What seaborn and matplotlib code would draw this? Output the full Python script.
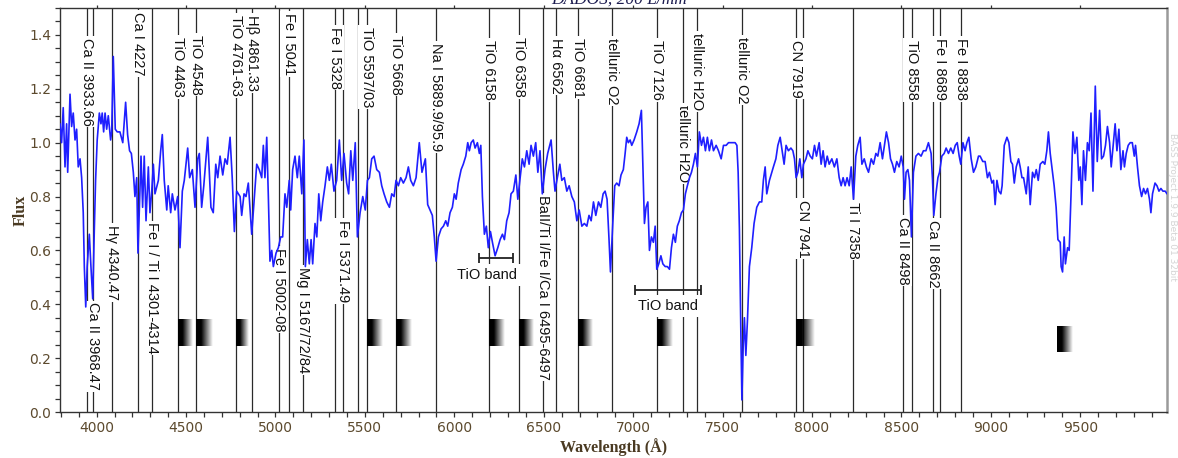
import numpy as np
import pandas as pd
import matplotlib
matplotlib.use("Agg")
import matplotlib.pyplot as plt
from matplotlib.ticker import MultipleLocator
import seaborn as sns

# spectrum (wavelength in Angstrom, normalised flux)
spectrum_wavelength = [
    3795, 3804, 3813, 3823, 3832, 3838, 3851, 3860, 3869, 3879,
    3888, 3897, 3907, 3916, 3925, 3931, 3939, 3947, 3959, 3968,
    3978, 3987, 3994, 4003, 4015, 4024, 4031, 4039, 4047, 4056,
    4065, 4078, 4084, 4093, 4104, 4115, 4130, 4146, 4162, 4173,
    4184, 4194, 4205, 4214, 4224, 4231, 4242, 4248, 4257, 4266,
    4276, 4289, 4298, 4308, 4317, 4326, 4345, 4358, 4367, 4378, 4392,
    4400, 4414, 4423, 4438, 4453, 4466, 4479, 4490, 4509, 4520,
    4535, 4550, 4565, 4574, 4587, 4599, 4621, 4639, 4652, 4666,
    4677, 4690, 4705, 4718, 4730, 4746, 4758, 4770, 4783, 4802,
    4811, 4824, 4835, 4848, 4867, 4880, 4895, 4909, 4923, 4932,
    4941, 4951, 4960, 4969, 4979, 4988, 5003, 5016, 5029, 5040,
    5053, 5063, 5077, 5085, 5096, 5109, 5122, 5133, 5147, 5159,
    5167, 5178, 5189, 5199, 5208, 5221, 5231, 5242, 5253, 5264,
    5277, 5290, 5301, 5312, 5327, 5342, 5357, 5370, 5383, 5398,
    5409, 5421, 5432, 5446, 5458, 5473, 5488, 5502, 5514, 5525,
    5538, 5551, 5566, 5581, 5594, 5607, 5622, 5637, 5650, 5663,
    5674, 5687, 5700, 5715, 5730, 5743, 5756, 5771, 5786, 5804,
    5819, 5838, 5851, 5864, 5877, 5888, 5898, 5911, 5926, 5939,
    5952, 5963, 5976, 5989, 6000, 6010, 6022, 6038, 6050, 6064,
    6075, 6084, 6094, 6106, 6116, 6129, 6140, 6148, 6157, 6168,
    6179, 6190, 6202, 6213, 6228, 6243, 6256, 6269, 6280, 6293,
    6306, 6317, 6330, 6344, 6355, 6368, 6380, 6392, 6405, 6418,
    6429, 6442, 6455, 6467, 6479, 6492, 6507, 6522, 6541, 6554,
    6563, 6576, 6590, 6601, 6615, 6629, 6642, 6657, 6671, 6685,
    6698, 6713, 6727, 6741, 6753, 6765, 6778, 6791, 6806, 6819,
    6832, 6843, 6854, 6865, 6873, 6886, 6897, 6908, 6921, 6932,
    6945, 6955, 6964, 6973, 6983, 6992, 7005, 7020, 7033, 7046,
    7054, 7063, 7072, 7082, 7091, 7102, 7113, 7123, 7132, 7143,
    7155, 7166, 7179, 7191, 7203, 7214, 7225, 7236, 7247, 7258,
    7270, 7281, 7292, 7303, 7315, 7326, 7337, 7348, 7359, 7370,
    7382, 7393, 7404, 7415, 7426, 7438, 7449, 7464, 7477, 7492,
    7505, 7520, 7533, 7552, 7570, 7580, 7587, 7594, 7602, 7608,
    7615, 7622, 7630, 7639, 7650, 7663, 7676, 7691, 7706, 7719,
    7728, 7738, 7747, 7762, 7775, 7784, 7798, 7809, 7822, 7833,
    7844, 7855, 7868, 7882, 7893, 7902, 7911, 7921, 7932, 7943,
    7952, 7966, 7977, 7990, 8002, 8014, 8025, 8040, 8051, 8062,
    8073, 8085, 8096, 8111, 8125, 8139, 8152, 8163, 8174, 8185,
    8196, 8208, 8219, 8232, 8245, 8256, 8269, 8279, 8292, 8304,
    8316, 8331, 8344, 8357, 8368, 8381, 8394, 8405, 8416, 8428,
    8439, 8450, 8461, 8474, 8487, 8499, 8510, 8517, 8526, 8536,
    8545, 8556, 8567, 8581, 8595, 8610, 8623, 8637, 8651, 8666,
    8674, 8681, 8693, 8704, 8713, 8726, 8739, 8750, 8763, 8776,
    8789, 8801, 8812, 8823, 8832, 8844, 8856, 8866, 8877, 8890,
    8903, 8916, 8931, 8940, 8955, 8968, 8981, 8992, 9006, 9015,
    9024, 9034, 9045, 9056, 9063, 9075, 9090, 9101, 9112, 9121,
    9131, 9142, 9155, 9164, 9174, 9183, 9198, 9209, 9220, 9233,
    9244, 9254, 9265, 9276, 9291, 9302, 9313, 9322, 9332, 9341,
    9354, 9365, 9375, 9388, 9393, 9401, 9410, 9417, 9429, 9438,
    9448, 9459, 9470, 9481, 9492, 9500, 9509, 9518, 9529, 9540,
    9550, 9560, 9571, 9584, 9595, 9608, 9619, 9630, 9641, 9652,
    9664, 9673, 9684, 9695, 9705, 9716, 9727, 9739, 9747, 9757,
    9768, 9779, 9791, 9802, 9809, 9820, 9831, 9843, 9854, 9865,
    9876, 9887, 9895, 9904, 9918, 9929, 9940, 9951, 9962, 9975,
    9985,
]
spectrum_flux = [
    1.07, 1.00, 1.13, 0.91, 1.07, 0.89, 1.18, 1.06, 1.11, 1.01,
    1.05, 0.91, 0.94, 0.87, 0.74, 0.54, 0.39, 0.54, 0.66, 0.54,
    0.42, 0.68, 0.86, 1.01, 1.11, 1.07, 1.11, 1.04, 1.11, 1.05,
    1.10, 1.01, 1.04, 1.32, 1.05, 1.04, 1.04, 1.00, 1.15, 1.03,
    0.97, 0.96, 0.89, 0.80, 0.87, 0.59, 0.82, 0.95, 0.76, 0.95,
    0.71, 0.91, 0.74, 0.82, 0.92, 0.81, 0.86, 0.97, 1.03, 0.86, 0.75,
    0.84, 0.74, 0.81, 0.75, 0.80, 0.61, 0.82, 0.86, 0.98, 0.87,
    0.90, 0.76, 0.94, 0.96, 0.76, 0.84, 1.02, 0.76, 0.74, 0.92,
    0.87, 0.95, 0.88, 0.94, 0.92, 1.02, 0.87, 0.67, 0.82, 0.80,
    0.73, 0.81, 0.80, 0.85, 0.66, 0.78, 0.92, 0.90, 0.87, 0.99,
    0.87, 1.02, 0.80, 0.56, 0.60, 0.54, 0.59, 0.61, 0.65, 0.65,
    0.81, 0.76, 0.86, 0.75, 0.90, 0.95, 0.87, 0.95, 0.81, 1.01,
    0.54, 0.64, 0.55, 0.64, 0.55, 0.70, 0.65, 0.81, 0.71, 0.78,
    0.84, 0.91, 0.86, 0.92, 0.82, 0.86, 1.01, 0.86, 0.96, 0.85,
    0.81, 0.97, 0.86, 1.00, 0.65, 0.74, 0.80, 0.75, 0.86, 0.87,
    0.94, 0.95, 0.90, 0.89, 0.84, 0.81, 0.78, 0.76, 0.81, 0.80,
    0.86, 0.84, 0.87, 0.85, 0.87, 0.91, 0.86, 0.84, 0.87, 1.00,
    0.89, 0.94, 0.77, 0.75, 0.73, 0.65, 0.56, 0.65, 0.68, 0.69,
    0.71, 0.69, 0.74, 0.76, 0.81, 0.79, 0.85, 0.90, 0.92, 0.95,
    1.00, 0.97, 1.00, 1.01, 0.98, 1.00, 0.96, 0.99, 0.80, 0.66,
    0.69, 0.61, 0.67, 0.63, 0.58, 0.61, 0.64, 0.66, 0.64, 0.71,
    0.74, 0.81, 0.82, 0.88, 0.79, 0.87, 0.94, 0.91, 0.97, 0.92,
    0.99, 0.95, 1.00, 0.89, 0.97, 0.81, 0.90, 0.96, 1.01, 0.89,
    0.82, 0.87, 0.92, 0.86, 0.87, 0.82, 0.84, 0.80, 0.78, 0.71,
    0.75, 0.69, 0.70, 0.69, 0.73, 0.71, 0.78, 0.73, 0.78, 0.76,
    0.81, 0.82, 0.79, 0.64, 0.52, 0.70, 0.84, 0.85, 0.84, 0.88,
    0.90, 0.96, 1.02, 1.00, 1.01, 0.99, 1.01, 1.04, 1.07, 1.12,
    0.92, 0.70, 0.76, 0.78, 0.60, 0.65, 0.63, 0.69, 0.53, 0.55,
    0.58, 0.55, 0.54, 0.54, 0.53, 0.61, 0.66, 0.63, 0.69, 0.71,
    0.74, 0.75, 0.81, 0.84, 0.87, 0.89, 0.92, 0.96, 0.91, 1.04,
    0.99, 1.02, 0.97, 1.02, 0.97, 1.01, 0.97, 0.99, 0.97, 0.94,
    0.99, 0.99, 1.00, 1.00, 1.00, 0.99, 0.89, 0.68, 0.30, 0.045,
    0.24, 0.35, 0.21, 0.34, 0.54, 0.61, 0.70, 0.76, 0.78, 0.78,
    0.86, 0.91, 0.81, 0.86, 0.89, 0.91, 0.94, 0.99, 1.02, 0.97,
    0.92, 0.99, 0.97, 0.98, 0.97, 0.94, 0.87, 0.89, 0.94, 0.87,
    0.92, 0.94, 0.97, 0.95, 0.94, 0.99, 0.95, 1.00, 0.92, 0.97,
    0.91, 0.95, 0.92, 0.94, 0.91, 0.94, 0.87, 0.84, 0.87, 0.84,
    0.87, 0.84, 0.91, 0.79, 0.95, 0.99, 1.02, 0.92, 0.94, 0.91,
    0.89, 0.94, 0.92, 0.96, 0.95, 1.00, 0.94, 0.99, 1.04, 1.00,
    0.94, 0.92, 0.89, 0.93, 0.91, 0.95, 0.91, 0.79, 0.89, 0.90,
    0.86, 0.65, 0.89, 0.95, 0.96, 0.95, 0.97, 0.97, 1.00, 0.96,
    0.86, 0.73, 0.81, 0.87, 0.89, 0.95, 0.96, 0.98, 0.96, 0.98,
    0.96, 0.99, 1.00, 0.95, 0.92, 1.00, 0.97, 1.00, 1.02, 0.94,
    0.89, 0.91, 0.95, 0.95, 0.93, 0.93, 0.87, 0.89, 0.85, 0.86,
    0.77, 0.86, 0.82, 0.81, 0.84, 0.99, 1.02, 1.00, 0.93, 0.92,
    0.85, 0.91, 0.94, 0.91, 0.87, 0.87, 0.81, 0.91, 0.77, 0.89,
    0.87, 0.90, 0.86, 0.92, 0.93, 0.92, 0.97, 1.04, 0.96, 0.91,
    0.84, 0.76, 0.64, 0.63, 0.54, 0.52, 0.65, 0.55, 0.61, 0.60,
    0.80, 1.04, 0.96, 1.02, 0.86, 0.91, 0.77, 0.97, 0.86, 1.00,
    0.97, 1.11, 0.82, 1.21, 0.93, 1.12, 0.94, 0.95, 0.99, 1.06,
    1.00, 0.91, 0.99, 1.07, 0.97, 1.05, 0.90, 0.97, 0.91, 0.96,
    0.99, 1.00, 1.00, 0.95, 0.99, 0.91, 0.84, 0.80, 0.83, 0.81,
    0.83, 0.79, 0.74, 0.81, 0.85, 0.84, 0.82, 0.83, 0.82, 0.82,
    0.81,
]
assert len(spectrum_wavelength) == len(spectrum_flux)

# identified lines (x position as drawn) and their labels
line_wave = [3947, 3979, 4087, 4233, 4308, 4456, 4555, 4779, 4870, 5020,
             5076, 5152, 5333, 5376, 5463, 5512, 5672, 5898, 6196, 6364,
             6498, 6567, 6690, 6879, 7132, 7278, 7356, 7608, 7911, 7949,
             8232, 8511, 8558, 8679, 8716, 8834]
line_name = ["Ca II 3933.66", "Ca II 3968.47", "Hγ 4340.47", "Ca I 4227",
             "Fe I / Ti I 4301-4314", "TiO 4463", "TiO 4548", "TiO 4761-63",
             "Hβ 4861.33", "Fe I 5002-08", "Fe I 5041", "Mg I 5167/72/84",
             "Fe I 5328", "Fe I 5371.49", "", "TiO 5597/03", "TiO 5668",
             "Na I 5889.9/95.9", "TiO 6158", "TiO 6358",
             "BaII/Ti I/Fe I/Ca I 6495-6497", "Hα 6562", "TiO 6681",
             "telluric O2", "TiO 7126", "telluric H2O", "telluric H2O",
             "telluric O2", "CN 7919", "CN 7941", "Ti I 7358", "Ca II 8498",
             "TiO 8558", "Ca II 8662", "Fe I 8689", "Fe I 8838"]
# where each label text starts (top of the rotated text, flux units)
label_top = [1.389, 0.408, 0.694, 1.485, 0.705, 1.392, 1.40, 1.474, 1.474, 0.609,
             1.482, 0.538, 1.43, 0.713, np.nan, 1.43, 1.40, 1.37, 1.381, 1.392,
             0.806, 1.389, 1.389, 1.389, 1.381, 1.14, 1.407, 1.392, 1.381, 0.787,
             0.78, 0.724, 1.381, 0.713, 1.389, 1.389]

# band-head markers (black -> white gradients)
band_start = [4456, 4555, 4779, 5512, 5672, 6196, 6364, 6690, 7132, 7911, 9369]
band_width = [82, 90, 72, 86, 84, 88, 82, 82, 87, 106, 84]
band_low = [0.245, 0.245, 0.245, 0.245, 0.245, 0.245, 0.245, 0.245, 0.245, 0.245, 0.223]
band_high = [0.342, 0.342, 0.342, 0.342, 0.342, 0.342, 0.342, 0.342, 0.342, 0.342, 0.317]

# TiO band brackets
tio_from = [6139, 7011]
tio_to = [6330, 7380]
tio_level = [0.573, 0.453]
tio_text_x = [6185, 7195]
tio_text_y = [0.509, 0.394]

sns.set_style("ticks")
plt.rcParams["font.family"] = ["Liberation Sans", "DejaVu Sans"]

fig = plt.figure(figsize=(11.78, 4.58), dpi=100)
ax = fig.add_axes([60 / 1178, 46 / 458, 1107 / 1178, 404 / 458])

spec = pd.DataFrame({"wavelength": spectrum_wavelength, "flux": spectrum_flux})
sns.lineplot(data=spec, x="wavelength", y="flux", color="#1f1fff", lw=1.2,
             estimator=None, sort=False, ax=ax, zorder=4)

for wl, name, top in zip(line_wave, line_name, label_top):
    ax.axvline(wl, color="#2a2a2a", lw=0.9, zorder=1)
    if name:
        ax.text(wl, top, name, rotation=270, ha="center", va="top", fontsize=10.5,
                color="#111111", zorder=2,
                bbox=dict(facecolor="white", edgecolor="none", pad=1.2))

t = np.linspace(0, 1, 80)
grad = np.zeros((1, 80, 4))
grad[..., 3] = np.clip(1.45 * (1 - t), 0, 1)
for x0, w, lo, hi in zip(band_start, band_width, band_low, band_high):
    ax.imshow(grad, extent=(x0, x0 + w, lo, hi), aspect="auto",
              interpolation="bilinear", zorder=3)

for a, b, lev, tx, ty in zip(tio_from, tio_to, tio_level, tio_text_x, tio_text_y):
    ax.text(tx, ty, "TiO band", ha="center", va="center", fontsize=10.5,
            color="#111111", zorder=2,
            bbox=dict(facecolor="white", edgecolor="none", pad=3))
    ax.errorbar((a + b) / 2, lev, xerr=(b - a) / 2, color="#222222", lw=1.3,
                capsize=3.5, capthick=1.3, zorder=3)

ax.set_xlim(3795, 9985)
ax.set_ylim(0, 1.5)
ax.set_xticks(np.arange(4000, 10000, 500))
ax.xaxis.set_minor_locator(MultipleLocator(100))
ax.set_yticks(np.arange(0, 1.41, 0.2))
ax.yaxis.set_minor_locator(MultipleLocator(0.05))
ax.tick_params(which="both", direction="out", length=3.5, width=0.9,
               color="#333333", labelsize=10, labelcolor="#5c4a2e", pad=3)
ax.tick_params(axis="x", which="major", top=True)
for tk in ax.xaxis.get_major_ticks():
    tk.tick2line.set_color("#f5a623")
    tk.tick2line.set_markersize(2.5)
for lab in ax.get_xticklabels() + ax.get_yticklabels():
    lab.set_fontfamily("DejaVu Sans")

for s in ["left", "bottom", "top"]:
    ax.spines[s].set_color("#333333")
    ax.spines[s].set_linewidth(1.0)
ax.spines["right"].set_color("#9a9a9a")
ax.spines["right"].set_linewidth(1.8)

ax.set_xlabel("Wavelength (Å)", fontsize=11.5, family="Liberation Serif",
              fontweight="bold", color="#4a3a22", labelpad=2)
ax.set_ylabel("Flux", fontsize=11.5, family="Liberation Serif",
              fontweight="bold", color="#4a3a22")
ax.yaxis.set_label_coords(-31 / 1107, 0.5)

fig.text(619 / 1178, 1 - 4 / 458, "DADOS, 200 L/mm", ha="center", va="baseline",
         fontsize=12.5, family="Liberation Serif", style="italic", color="#1c1c50")
fig.text(1173 / 1178, 1 - 133 / 458, "BASS Project 1.9.9 Beta 01 32bit",
         rotation=270, ha="center", va="top", fontsize=6.5, color="#d4d4d4",
         family="DejaVu Sans")

fig.savefig("out.png", dpi=100)
